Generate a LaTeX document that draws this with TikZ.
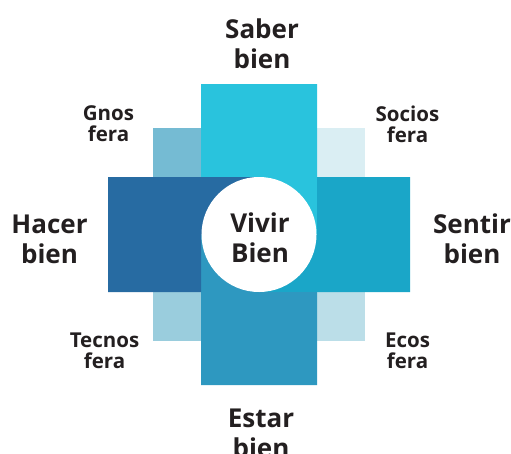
\documentclass[tikz,border=0pt]{standalone}
\usepackage{fontspec}
\setmainfont{Open Sans}
\definecolor{saber}{HTML}{29C3DD}
\definecolor{hacer}{HTML}{276BA2}
\definecolor{sentir}{HTML}{1AA6C8}
\definecolor{estar}{HTML}{2E98C0}
\definecolor{gnos}{HTML}{75BBD3}
\definecolor{socios}{HTML}{DAEEF3}
\definecolor{tecnos}{HTML}{9ACDDD}
\definecolor{ecos}{HTML}{BBDEE8}
\definecolor{ink}{HTML}{231F20}
\tikzset{
  biglabel/.style={anchor=base, align=center, inner sep=0pt, text=ink,
    font=\fontsize{26}{29.5}\selectfont\bfseries},
  smalllabel/.style={anchor=base, align=center, inner sep=0pt, text=ink,
    font=\fontsize{20.5}{21}\selectfont\bfseries}
}
\begin{document}
\begin{tikzpicture}[x=1pt,y=-1pt]
\useasboundingbox (0,0) rectangle (511,453);
% corner squares
\fill[gnos] (153,128) rectangle (201,177);
\fill[socios] (317,128) rectangle (365,177);
\fill[tecnos] (153,292) rectangle (201,341);
\fill[ecos] (317,292) rectangle (365,341);
% pinwheel arms
\fill[saber] (201,84) -- (317,84) -- (317,234.5) -- (259,234.5) -- (259,177) -- (201,177) -- cycle;
\fill[sentir] (317,177) -- (410,177) -- (410,292) -- (259,292) -- (259,234.5) -- (317,234.5) -- cycle;
\fill[estar] (201,234.5) -- (259,234.5) -- (259,292) -- (317,292) -- (317,385) -- (201,385) -- cycle;
\fill[hacer] (108,177) -- (259,177) -- (259,234.5) -- (201,234.5) -- (201,292) -- (108,292) -- cycle;
% centre circle
\node[circle, fill=white, inner sep=0pt, minimum size=115pt] (centre) at (259,234.5) {};
% labels (anchor = baseline of last line)
\node[biglabel] (vivir) at (260,262) {Vivir\\Bien};
\node[biglabel] (saber) at (262,68) {Saber\\bien};
\node[biglabel] (hacerl) at (49.5,263) {Hacer\\bien};
\node[biglabel] (sentirl) at (472,263) {Sentir\\bien};
\node[biglabel] (estarl) at (261,457) {Estar\\bien};
\node[smalllabel] (gnosl) at (108.5,141.7) {Gnos\\fera};
\node[smalllabel] (sociosl) at (407.5,142) {Socios\\fera};
\node[smalllabel] (tecnosl) at (104.5,368) {Tecnos\\fera};
\node[smalllabel] (ecosl) at (407.5,368) {Ecos\\fera};
\end{tikzpicture}
\end{document}
